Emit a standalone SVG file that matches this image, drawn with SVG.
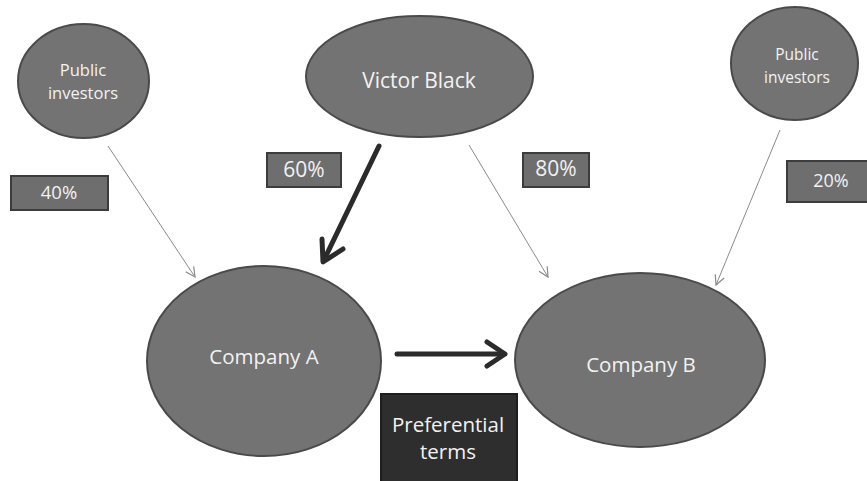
<svg xmlns="http://www.w3.org/2000/svg" width="867" height="481" viewBox="0 0 867 481">
<style>
.node{fill:#737373;stroke:#4a4a4a;stroke-width:2}
.lbl{fill:#f2f2f2;font-family:"Open Sans","Liberation Sans",sans-serif;text-anchor:middle}
.pct{fill:#6e6e6e;stroke:#3c3c3c;stroke-width:2}
.thin{fill:none;stroke:#8a8a8a;stroke-width:1}
.thick{fill:none;stroke:#2b2b2b;stroke-width:5;stroke-linecap:round;stroke-linejoin:round}
</style>
<defs>
<marker id="open" viewBox="0 0 10 10" refX="9" refY="5" markerWidth="12" markerHeight="12" markerUnits="userSpaceOnUse" orient="auto">
<path d="M1,1 L9,5 L1,9" fill="none" stroke="#8a8a8a" stroke-width="1"/>
</marker>
</defs>
<rect width="867" height="481" fill="#ffffff"/>
<g id="connectors">
<line class="thin" x1="108" y1="146" x2="195" y2="277" marker-end="url(#open)"/>
<line class="thin" x1="469" y1="145" x2="548" y2="277" marker-end="url(#open)"/>
<line class="thin" x1="780" y1="130" x2="716" y2="285" marker-end="url(#open)"/>
<line class="thick" x1="379" y1="146" x2="324" y2="260"/>
<polyline class="thick" points="322,239 323,262 343,249"/>
<line class="thick" x1="397" y1="354" x2="503" y2="354"/>
<polyline class="thick" points="487,342 505,354 487,366"/>
</g>
<g id="public-left">
<ellipse class="node" cx="83.5" cy="81" rx="65.5" ry="57"/>
<text class="lbl" x="83" y="76" font-size="16.5">Public</text>
<text class="lbl" x="83" y="99" font-size="16.5">investors</text>
</g>
<g id="victor">
<ellipse class="node" cx="419.5" cy="76.5" rx="113.5" ry="60.5"/>
<text class="lbl" x="419" y="88" font-size="21">Victor Black</text>
</g>
<g id="public-right">
<ellipse class="node" cx="794.5" cy="63.5" rx="63.5" ry="56.5"/>
<text class="lbl" x="797" y="60" font-size="15.5">Public</text>
<text class="lbl" x="797" y="83" font-size="15.5">investors</text>
</g>
<g id="company-a">
<ellipse class="node" cx="264" cy="361" rx="117" ry="95"/>
<text class="lbl" x="264" y="364" font-size="20.5">Company A</text>
</g>
<g id="company-b">
<ellipse class="node" cx="640" cy="360" rx="125" ry="87"/>
<text class="lbl" x="641" y="372" font-size="20.5">Company B</text>
</g>
<g id="pct-40">
<rect class="pct" x="11" y="176" width="97" height="34"/>
<text class="lbl" x="59" y="199" font-size="18.5">40%</text>
</g>
<g id="pct-60">
<rect class="pct" x="267" y="153" width="74" height="34"/>
<text class="lbl" x="304" y="177" font-size="21">60%</text>
</g>
<g id="pct-80">
<rect class="pct" x="523" y="153" width="66" height="34"/>
<text class="lbl" x="556" y="176" font-size="21">80%</text>
</g>
<g id="pct-20">
<rect class="pct" x="787" y="161" width="82" height="41"/>
<text class="lbl" x="831" y="187" font-size="18">20%</text>
</g>
<g id="preferential">
<rect x="381" y="394" width="136" height="90" fill="#2e2e2e" stroke="#1e1e1e" stroke-width="2"/>
<text class="lbl" x="448" y="432" font-size="20.5" fill="#e6e6e6">Preferential</text>
<text class="lbl" x="448" y="459" font-size="20.5">terms</text>
</g>
</svg>
